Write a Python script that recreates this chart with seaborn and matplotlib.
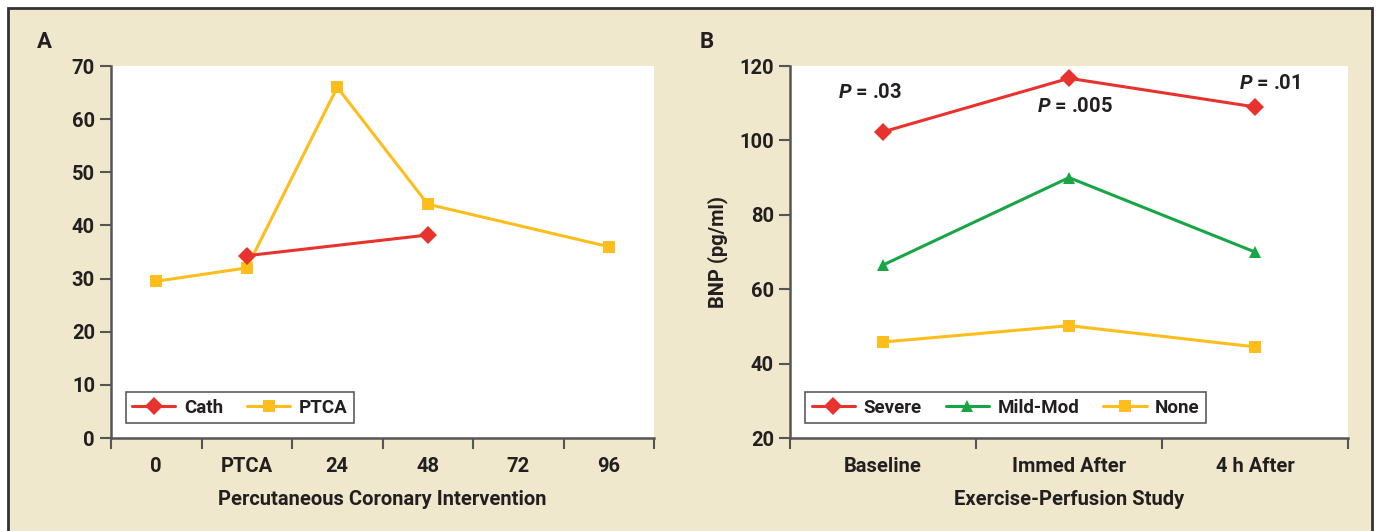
import pandas as pd
import seaborn as sns
import matplotlib.pyplot as plt
from matplotlib.patches import Rectangle
from matplotlib.lines import Line2D

# Panel A data
a_cats = ['0', 'PTCA', '24', '48', '72', '96']
cath = [None, 34.3, None, 38.2, None, None]
ptca = [29.5, 32.0, 66.0, 44.0, None, 36.0]

# Panel B data
b_cats = ['Baseline', 'Immed After', '4 h After']
severe = [102.3, 116.7, 109.0]
mild_mod = [66.5, 90.0, 70.0]
none_grp = [45.8, 50.2, 44.5]

RED = '#e8322e'
YEL = '#fdbd1c'
GRN = '#18a546'
BG = '#efe8cc'
FS = 14.5

sns.set_theme(style='white')
plt.rcParams['font.family'] = ['Roboto', 'DejaVu Sans']
plt.rcParams['font.weight'] = 'bold'
plt.rcParams['mathtext.fontset'] = 'custom'
plt.rcParams['mathtext.it'] = 'Roboto:italic:bold'
plt.rcParams['mathtext.rm'] = 'Roboto:bold'

fig = plt.figure(figsize=(13.78, 5.31), dpi=100, facecolor='white')
fig.patches.append(Rectangle((8 / 1378, -0.01), 1364 / 1378, 1.01 - 8 / 531,
                             transform=fig.transFigure, facecolor=BG,
                             edgecolor='#333333', linewidth=2, zorder=-10))


def series_df(cats, vals):
    d = pd.DataFrame({'pos': range(len(cats)), 'val': vals})
    return d.dropna()


def style_axes(ax, cats):
    n = len(cats)
    ax.set_facecolor('white')
    ax.set_xlim(-0.5, n - 0.5)
    ax.set_xticks(range(n))
    ax.set_xticklabels(cats)
    ax.set_xticks([i - 0.5 for i in range(n + 1)], minor=True)
    ax.tick_params(axis='x', which='major', length=0, pad=14, labelsize=FS)
    ax.tick_params(axis='x', which='minor', length=8, width=1.5, direction='out',
                   color='#555555', bottom=True)
    ax.tick_params(axis='y', length=8, width=1.5, direction='out', color='#555555',
                   labelsize=FS, left=True)
    for s in ['top', 'right']:
        ax.spines[s].set_visible(False)
    for s in ['left', 'bottom']:
        ax.spines[s].set_color('#555555')
        ax.spines[s].set_linewidth(1.8)
    for t in ax.get_yticklabels() + ax.get_xticklabels():
        t.set_color('#231f20')
        t.set_fontweight('bold')


def make_legend(ax, handles, labels):
    leg = ax.legend(handles, labels, loc='lower left', bbox_to_anchor=(0.027, 0.04),
                    ncol=len(labels), frameon=True, fancybox=False, fontsize=13.5,
                    handlelength=2.3, columnspacing=1.3, borderpad=0.35,
                    handletextpad=0.45, borderaxespad=0)
    leg.get_frame().set_edgecolor('#333333')
    leg.get_frame().set_linewidth(1.2)
    for t in leg.get_texts():
        t.set_color('#231f20')


# Panel A
axA = fig.add_axes([111 / 1378, 93 / 531, 543 / 1378, 372 / 531])
d = series_df(a_cats, ptca)
sns.lineplot(data=d, x='pos', y='val', ax=axA, color=YEL, marker='s', markersize=9,
             linewidth=2.2, markeredgewidth=0)
d = series_df(a_cats, cath)
sns.lineplot(data=d, x='pos', y='val', ax=axA, color=RED, marker='D', markersize=9,
             linewidth=2.2, markeredgewidth=0)
axA.set_ylim(0, 70)
axA.set_yticks(range(0, 71, 10))
style_axes(axA, a_cats)
axA.set_xlabel('Percutaneous Coronary Intervention', fontsize=FS, fontweight='bold',
               color='#231f20', labelpad=10)
axA.set_ylabel('')
make_legend(axA,
            [Line2D([], [], color=RED, marker='D', markersize=9, lw=2.2, mew=0),
             Line2D([], [], color=YEL, marker='s', markersize=9, lw=2.2, mew=0)],
            ['Cath', 'PTCA'])
fig.text(37 / 1378, 1 - 42 / 531, 'A', fontsize=16, fontweight='bold', va='center',
         color='#231f20')

# Panel B
axB = fig.add_axes([790 / 1378, 93 / 531, 558 / 1378, 372 / 531])
for vals, col, mk in [(severe, RED, 'D'), (mild_mod, GRN, '^'), (none_grp, YEL, 's')]:
    d = series_df(b_cats, vals)
    sns.lineplot(data=d, x='pos', y='val', ax=axB, color=col, marker=mk, markersize=9,
                 linewidth=2.2, markeredgewidth=0)
axB.set_ylim(20, 120)
axB.set_yticks(range(20, 121, 20))
style_axes(axB, b_cats)
axB.set_xlabel('Exercise-Perfusion Study', fontsize=FS, fontweight='bold',
               color='#231f20', labelpad=10)
axB.set_ylabel('BNP (pg/ml)', fontsize=FS, fontweight='bold', color='#231f20', labelpad=8)
make_legend(axB,
            [Line2D([], [], color=RED, marker='D', markersize=9, lw=2.2, mew=0),
             Line2D([], [], color=GRN, marker='^', markersize=9, lw=2.2, mew=0),
             Line2D([], [], color=YEL, marker='s', markersize=9, lw=2.2, mew=0)],
            ['Severe', 'Mild-Mod', 'None'])
for x, y, s in [(-0.07, 113, '.03'), (1.03, 109, '.005'), (2.08, 115.4, '.01')]:
    axB.text(x, y, r'$P$ = ' + s, fontsize=FS, ha='center', va='center', color='#231f20')
fig.text(700 / 1378, 1 - 42 / 531, 'B', fontsize=16, fontweight='bold', va='center',
         color='#231f20')

fig.savefig('out.png', dpi=100, facecolor=fig.get_facecolor())
